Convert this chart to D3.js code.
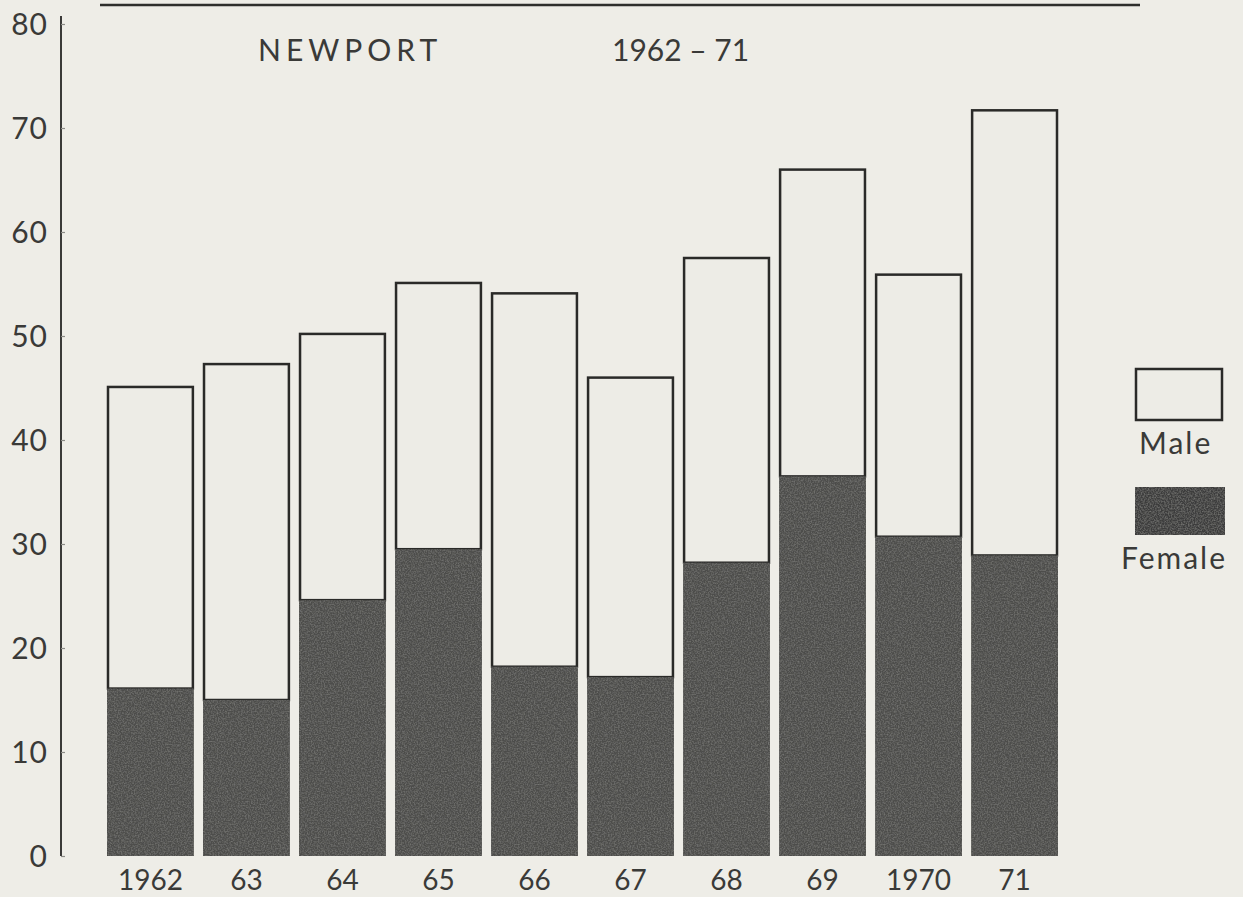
<!DOCTYPE html>
<html>
<head>
<meta charset="utf-8">
<script src="https://cdn.jsdelivr.net/npm/d3@7"></script>
<style>
  html, body { margin: 0; padding: 0; background: #eeede7; }
  svg { display: block; }
  text { font-family: Lato, "Open Sans", sans-serif; fill: #3a3a38; }
</style>
</head>
<body>
<svg id="chart" width="1243" height="897"></svg>
<script>
// ---- data ----
const years = ["1962", "63", "64", "65", "66", "67", "68", "69", "1970", "71"];
const female = [16.1, 15.0, 24.6, 29.5, 18.2, 17.2, 28.2, 36.5, 30.7, 28.9];
const total  = [45.1, 47.3, 50.2, 55.1, 54.1, 46.0, 57.5, 66.0, 55.9, 71.7];
const male   = total.map((t, i) => +(t - female[i]).toFixed(1));
const yTicks = [0, 10, 20, 30, 40, 50, 60, 70, 80];
const titleLeft = "NEWPORT";
const titleRight = "1962 \u2013 71";
const seriesNames = ["Male", "Female"];

const W = 1243, H = 897;
const svg = d3.select("#chart");

// paper background
svg.append("rect").attr("width", W).attr("height", H).attr("fill", "#eeede7");

// grain filter for printed dark bars
const defs = svg.append("defs");
const f = defs.append("filter").attr("id", "grain").attr("x", 0).attr("y", 0).attr("width", 1).attr("height", 1);
f.append("feTurbulence").attr("type", "fractalNoise").attr("baseFrequency", 0.7).attr("numOctaves", 2).attr("seed", 3).attr("result", "noise");
f.append("feColorMatrix").attr("in", "noise").attr("type", "matrix")
  .attr("values", "0 0 0 0 0.2  0 0 0 0 0.2  0 0 0 0 0.19  0 0 0 1.6 -0.6").attr("result", "dark");
f.append("feComposite").attr("in", "dark").attr("in2", "SourceGraphic").attr("operator", "in").attr("result", "d2");
f.append("feMerge").selectAll("feMergeNode").data(["SourceGraphic", "d2"]).join("feMergeNode").attr("in", d => d);

const x = d3.scaleBand().domain(years).range([108, 1057]).paddingInner(0.116).paddingOuter(0);
const y = d3.scaleLinear().domain([0, 80]).range([856, 24]);

// top rule (cut-off header underline)
svg.append("line").attr("x1", 100).attr("x2", 1140).attr("y1", 5).attr("y2", 5)
  .attr("stroke", "#2e2e2c").attr("stroke-width", 2.5);

// y axis
const yAxis = d3.axisRight(y).tickValues(yTicks).tickSize(4).tickFormat("");
const gy = svg.append("g").attr("transform", "translate(61,0)").call(yAxis);
gy.select(".domain").attr("stroke", "#3a3a38").attr("stroke-width", 2).attr("d", `M0,${y(80) - 8}V${y(0)}`);
gy.selectAll(".tick line").attr("stroke", "#8a8a86").attr("stroke-width", 1.2);

svg.append("g").selectAll("text").data(yTicks).join("text")
  .attr("x", 48).attr("y", d => y(d)).attr("dy", "0.36em")
  .attr("text-anchor", "end").attr("font-size", 30).attr("letter-spacing", 1)
  .text(d => d);

// male (outlined) portion from female top to total
const bars = svg.append("g");
bars.selectAll("rect.male").data(years).join("rect").attr("class", "male")
  .attr("x", d => x(d)).attr("width", x.bandwidth())
  .attr("y", (d, i) => y(female[i] + male[i]))
  .attr("height", (d, i) => y(female[i]) - y(female[i] + male[i]))
  .attr("fill", "#edece6").attr("stroke", "#2a2a28").attr("stroke-width", 2.5);

bars.selectAll("rect.female").data(years).join("rect").attr("class", "female")
  .attr("x", d => x(d) - 1).attr("width", x.bandwidth() + 2)
  .attr("y", (d, i) => y(female[i]))
  .attr("height", (d, i) => y(0) - y(female[i]))
  .attr("fill", "#4e4e4b").attr("filter", "url(#grain)");

// x labels
svg.append("g").selectAll("text").data(years).join("text")
  .attr("x", d => x(d) + x.bandwidth() / 2).attr("y", 890)
  .attr("text-anchor", "middle").attr("font-size", 28)
  .text(d => d);

// titles
svg.append("text").attr("x", 258).attr("y", 61).attr("font-size", 30).attr("letter-spacing", 5).text(titleLeft);
svg.append("text").attr("x", 612).attr("y", 61).attr("font-size", 30).text(titleRight);

// legend
const lg = svg.append("g");
lg.append("rect").attr("x", 1136).attr("y", 369).attr("width", 86).attr("height", 51)
  .attr("fill", "#edece6").attr("stroke", "#2a2a28").attr("stroke-width", 2.5);
lg.append("text").attr("x", 1139).attr("y", 454).attr("font-size", 30).attr("letter-spacing", 2).text(seriesNames[0]);
lg.append("rect").attr("x", 1135).attr("y", 487).attr("width", 90).attr("height", 48)
  .attr("fill", "#3e3e3c").attr("filter", "url(#grain)");
lg.append("text").attr("x", 1121).attr("y", 569).attr("font-size", 30).attr("letter-spacing", 2).text(seriesNames[1]);
</script>
</body>
</html>
